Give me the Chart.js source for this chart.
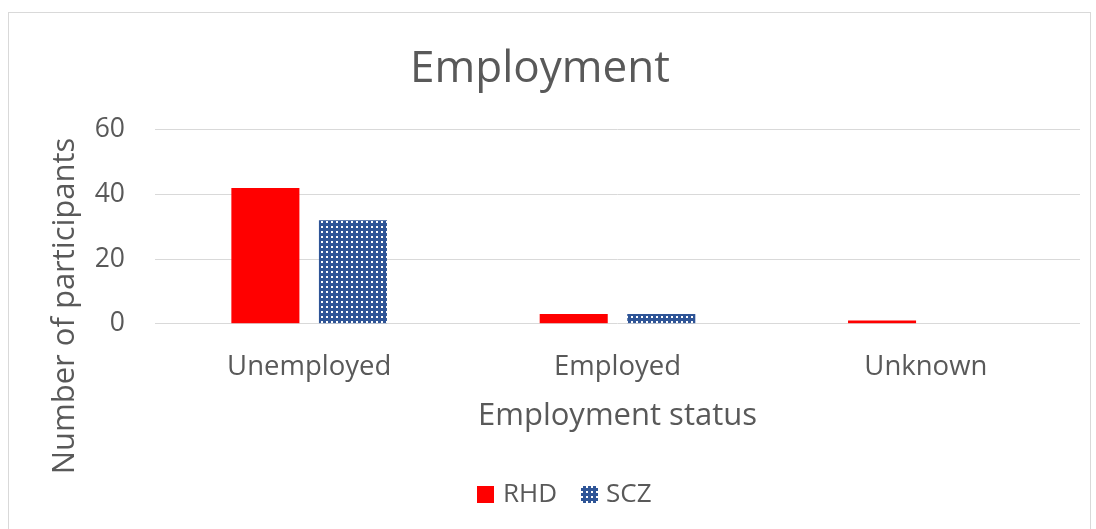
<!DOCTYPE html>
<html>
<head>
<meta charset="utf-8">
<script src="https://cdn.jsdelivr.net/npm/chart.js@4.4.0/dist/chart.umd.min.js"></script>
<style>
  body { margin: 0; background: #fff; }
  #chartBox { width: 1096px; height: 529px; }
</style>
</head>
<body>
<div id="chartBox"><canvas id="chart1"></canvas></div>
<script>
const labelsName = ['Unemployed', 'Employed', 'Unknown'];
const dataRHD = [42, 3, 1];
const dataSCZ = [32, 3, 0];
const textColor = '#595959';
const gridColor = '#d9d9d9';

Chart.defaults.font.family = "'Open Sans', sans-serif";
Chart.defaults.color = textColor;

// blue with small white dots, like the Excel pattern fill
function makePattern() {
  let tile = document.createElement('canvas');
  tile.width = 5;
  tile.height = 5;
  let c = tile.getContext('2d');
  c.fillStyle = '#2f5597';
  c.fillRect(0, 0, 5, 5);
  c.fillStyle = '#ffffff';
  c.fillRect(1, 1, 2, 2);
  return document.createElement('canvas').getContext('2d').createPattern(tile, 'repeat');
}

// legend items placed like the original (box, then label close to it)
const legendPos = [{ box: 477, text: 503 }, { box: 581, text: 606 }];

const extras = {
  id: 'extras',
  beforeDraw(chart) {
    let ctx = chart.ctx;
    ctx.save();
    ctx.strokeStyle = gridColor;
    ctx.lineWidth = 1;
    ctx.strokeRect(8.5, 12.5, 1082, 530);
    ctx.restore();
  },
  afterDraw(chart) {
    let ctx = chart.ctx;
    ctx.save();
    ctx.translate(65, 306);
    ctx.rotate(-Math.PI / 2);
    ctx.fillStyle = textColor;
    ctx.font = "31px 'Open Sans', sans-serif";
    ctx.textAlign = 'center';
    ctx.textBaseline = 'middle';
    ctx.fillText('Number of participants', 0, 0);
    ctx.restore();

    ctx.save();
    ctx.font = "26px 'Open Sans', sans-serif";
    ctx.textBaseline = 'middle';
    chart.data.datasets.forEach((ds, i) => {
      ctx.fillStyle = ds.backgroundColor;
      ctx.fillRect(legendPos[i].box, 486, 17, 17);
      ctx.fillStyle = textColor;
      ctx.fillText(ds.label, legendPos[i].text, 495);
    });
    ctx.restore();
  }
};

var ctx = document.getElementById('chart1');
var myChart = new Chart(ctx, {
  type: 'bar',
  data: {
    labels: labelsName,
    datasets: [
      { label: 'RHD', data: dataRHD, backgroundColor: '#ff0000', categoryPercentage: 0.568, barPercentage: 0.777 },
      { label: 'SCZ', data: dataSCZ, backgroundColor: makePattern(), categoryPercentage: 0.568, barPercentage: 0.777 }
    ]
  },
  options: {
    responsive: true,
    maintainAspectRatio: false,
    animation: false,
    layout: { padding: { left: 0, right: 16, top: 0, bottom: 94 } },
    scales: {
      x: {
        grid: { display: false },
        border: { display: false },
        ticks: { font: { size: 27.5 }, padding: 19 },
        title: { display: true, text: 'Employment status', font: { size: 31 }, padding: { top: -5, bottom: 0 } }
      },
      y: {
        min: 0,
        max: 60,
        ticks: { stepSize: 20, font: { size: 26.5 }, padding: 30 },
        grid: { color: gridColor, drawTicks: false },
        border: { display: false },
        afterFit: (scale) => { scale.width = 155; }
      }
    },
    plugins: {
      title: {
        display: true,
        text: 'Employment',
        font: { size: 44, weight: 'normal' },
        color: textColor,
        padding: { top: 43, bottom: 34 }
      },
      legend: { display: false },
      tooltip: { enabled: false }
    }
  },
  plugins: [extras]
});
</script>
</body>
</html>
